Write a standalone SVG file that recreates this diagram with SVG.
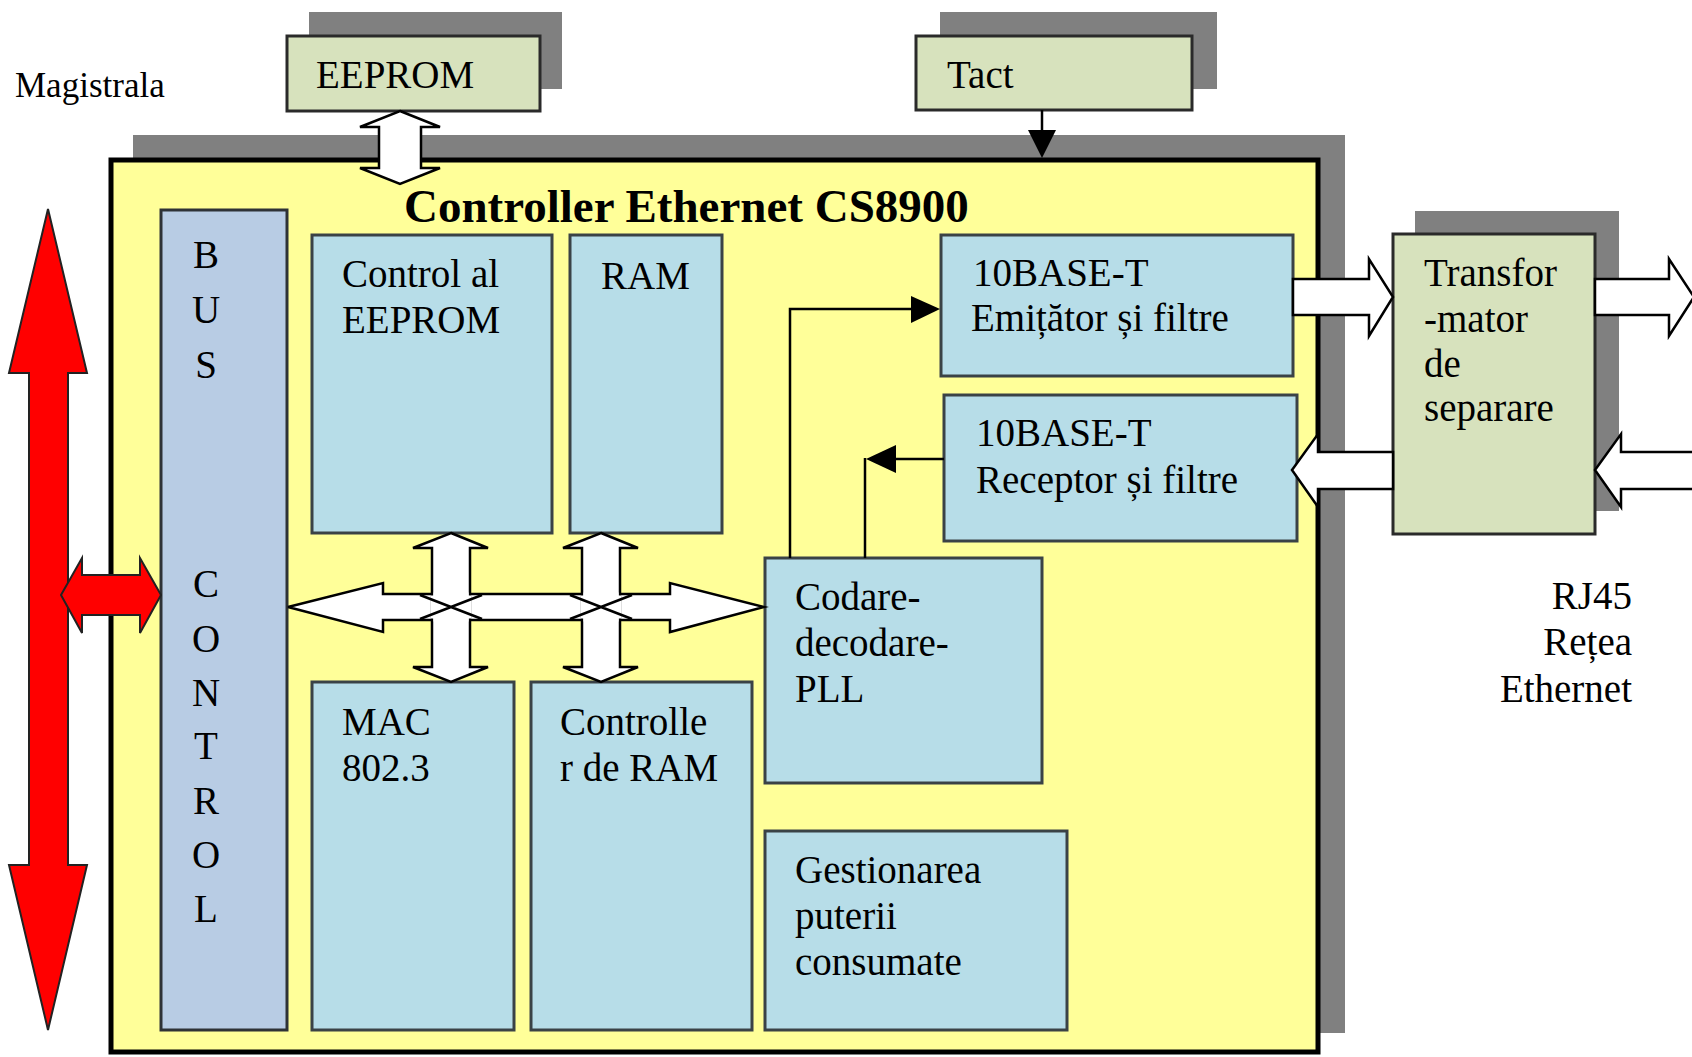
<svg xmlns="http://www.w3.org/2000/svg" width="1692" height="1057" viewBox="0 0 1692 1057">
<style>
text{font-family:"Liberation Serif","Times New Roman",serif;font-size:39px;fill:#000}
.sh{fill:#808080}
.sage{fill:#d7e2bd;stroke:#2a2a2a;stroke-width:3}
.blue{fill:#b7dde8;stroke:#3a4246;stroke-width:3}
.bus{fill:#b8cce4;stroke:#2e3236;stroke-width:3}
.fat{fill:#fff;stroke:#000;stroke-width:2.5;stroke-linejoin:miter}
.red{fill:#ff0000;stroke:#222;stroke-width:2}
.ln{fill:none;stroke:#000;stroke-width:2.5}
.ah{fill:#000}
.bl{font-weight:bold;font-size:47px}
.mid{text-anchor:middle}
.end{text-anchor:end}
</style>
<rect width="1692" height="1057" fill="#fff"/>

<g id="magistrala-label"><text x="15" y="97" style="font-size:35px">Magistrala</text></g>

<g id="eeprom">
<rect class="sh" x="309" y="12" width="253" height="77"/>
<rect class="sage" x="287" y="36" width="253" height="75"/>
<text x="316" y="88">EEPROM</text>
</g>

<g id="tact">
<rect class="sh" x="940" y="12" width="277" height="77"/>
<rect class="sage" x="916" y="36" width="276" height="74"/>
<text x="947" y="88">Tact</text>
</g>

<g id="controller">
<rect class="sh" x="133" y="135" width="1212" height="898"/>
<rect x="111" y="160" width="1207" height="892" fill="#ffff99" stroke="#000" stroke-width="5"/>
<text class="bl" x="404" y="222">Controller Ethernet CS8900</text>
</g>

<g id="bus-control">
<rect class="bus" x="161" y="210" width="126" height="820"/>
<text class="mid" x="206" y="268">B</text>
<text class="mid" x="206" y="323">U</text>
<text class="mid" x="206" y="378">S</text>
<text class="mid" x="206" y="597">C</text>
<text class="mid" x="206" y="652">O</text>
<text class="mid" x="206" y="706">N</text>
<text class="mid" x="206" y="759">T</text>
<text class="mid" x="206" y="814">R</text>
<text class="mid" x="206" y="868">O</text>
<text class="mid" x="206" y="922">L</text>
</g>

<g id="control-eeprom">
<rect class="blue" x="312" y="235" width="240" height="298"/>
<text x="342" y="287">Control al</text>
<text x="342" y="333">EEPROM</text>
</g>

<g id="ram">
<rect class="blue" x="570" y="235" width="152" height="298"/>
<text x="601" y="289">RAM</text>
</g>

<g id="emitator">
<rect class="blue" x="941" y="235" width="352" height="141"/>
<text x="973" y="286">10BASE-T</text>
<text x="971" y="331">Emițător și filtre</text>
</g>

<g id="receptor">
<rect class="blue" x="944" y="395" width="353" height="146"/>
<text x="976" y="446">10BASE-T</text>
<text x="976" y="493">Receptor și filtre</text>
</g>

<g id="codare">
<rect class="blue" x="765" y="558" width="277" height="225"/>
<text x="795" y="610">Codare-</text>
<text x="795" y="656">decodare-</text>
<text x="795" y="702">PLL</text>
</g>

<g id="mac">
<rect class="blue" x="312" y="682" width="202" height="348"/>
<text x="342" y="735">MAC</text>
<text x="342" y="781">802.3</text>
</g>

<g id="controller-ram">
<rect class="blue" x="531" y="682" width="221" height="348"/>
<text x="560" y="735">Controlle</text>
<text x="560" y="781">r de RAM</text>
</g>

<g id="gestionarea">
<rect class="blue" x="765" y="831" width="302" height="199"/>
<text x="795" y="883">Gestionarea</text>
<text x="795" y="929">puterii</text>
<text x="795" y="975">consumate</text>
</g>

<g id="transformator">
<rect class="sh" x="1415" y="211" width="204" height="300"/>
<rect class="sage" x="1393" y="234" width="202" height="300"/>
<text x="1424" y="286">Transfor</text>
<text x="1424" y="332">-mator</text>
<text x="1424" y="377">de</text>
<text x="1424" y="421">separare</text>
</g>

<g id="rj45-label">
<text class="end" x="1632" y="609">RJ45</text>
<text class="end" x="1632" y="655">Rețea</text>
<text class="end" x="1632" y="702">Ethernet</text>
</g>

<g id="connectors">
<!-- Tact to controller -->
<path class="ln" d="M1042,110 V132"/>
<polygon class="ah" points="1028,130 1056,130 1042,158"/>
<!-- Codare to emitter -->
<path class="ln" d="M790,558 V309 H912"/>
<polygon class="ah" points="911,296 911,323 940,309"/>
<!-- Receptor to codare -->
<path class="ln" d="M944,459 H894"/>
<polygon class="ah" points="896,445 896,473 866,459"/>
<path class="ln" d="M865,458 V558"/>
<!-- EEPROM double arrow -->
<polygon class="fat" points="400,111 440,127 421,127 421,168 440,168 400,184 360,168 379,168 379,127 360,127"/>
<!-- Fat arrows to/from transformer -->
<polygon class="fat" points="1293,279 1369,279 1369,259 1393,297 1369,336 1369,315 1293,315"/>
<polygon class="fat" points="1595,279 1669,279 1669,259 1694,297 1669,336 1669,315 1595,315"/>
<polygon class="fat" points="1393,452 1318,452 1318,434 1292,470 1318,507 1318,489 1393,489"/>
<polygon class="fat" points="1700,452 1621,452 1621,434 1595,470 1621,507 1621,489 1700,489"/>
<!-- Red bus arrows -->
<polygon class="red" points="48,209 87,373 68,373 68,865 87,865 48,1030 9,865 29,865 29,373 9,373"/>
<polygon class="red" points="61,595 82,558 82,575 140,575 140,558 161,595 140,633 140,615 82,615 82,633"/>
<!-- Internal bus -->
<polygon class="fat" points="288,607 383,583 383,594 670,594 670,583 764,607 670,632 670,620 383,620 383,632"/>
<polygon class="fat" points="451,533 488,548 470,548 470,667 488,667 451,682 413,667 432,667 432,548 413,548"/>
<polygon class="fat" points="601,533 638,548 620,548 620,667 638,667 601,682 563,667 582,667 582,548 563,548"/>
<g fill="#fff">
<rect x="433.5" y="592.5" width="35" height="29"/>
<rect x="430.5" y="595.5" width="41" height="23"/>
<rect x="583.5" y="592.5" width="35" height="29"/>
<rect x="580.5" y="595.5" width="41" height="23"/>
</g>
<path class="ln" stroke-width="2" d="M420,595 L482,619 M482,595 L420,619 M570,595 L632,619 M632,595 L570,619"/>
</g>
</svg>
